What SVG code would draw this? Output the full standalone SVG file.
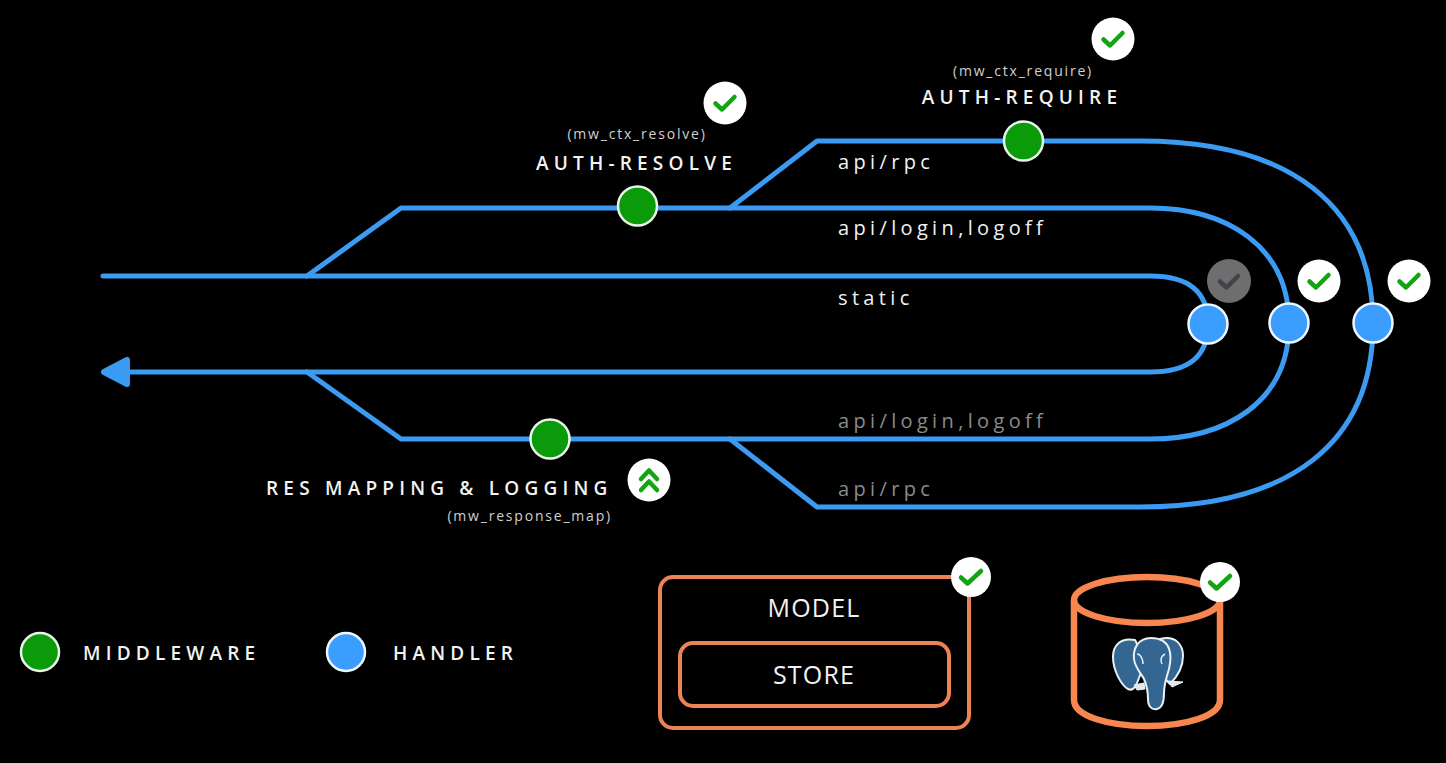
<svg xmlns="http://www.w3.org/2000/svg" width="1446" height="763" viewBox="0 0 1446 763">
<style>
text{font-family:"Open Sans","Noto Sans",sans-serif;fill:#f2f2f2}
.rail{fill:none;stroke:#3b9bf3;stroke-width:5;stroke-linecap:round;stroke-linejoin:round}
.mw{fill:#0a9a0a;stroke:#e8f5e8;stroke-width:2.5}
.hd{fill:#3b9eff;stroke:#eef6ff;stroke-width:2.5}
.badge{fill:#fff}
.chk{fill:none;stroke:#12a512;stroke-width:4.5;stroke-linecap:round;stroke-linejoin:round}
.title{font-size:19px;font-weight:600;letter-spacing:5.2px}
.sub{font-size:14px;fill:#d0d0d0;letter-spacing:1.8px}
.path{font-size:20px;font-weight:500;letter-spacing:4.35px}
.dim{fill:#8a8a8a}
.box{fill:none;stroke:#ee8257;stroke-width:4}
.big{font-size:25px;font-weight:500;text-anchor:middle;letter-spacing:1.2px}
.db{fill:none;stroke:#f8874f;stroke-width:6.500}
</style>
<defs>
<g id="tick"><circle class="badge" r="21.5"/><path class="chk" d="M-9.500,0.500 L-3,6.500 L9.500,-6"/></g>
<g id="tick-small"><circle class="badge" r="20"/><path class="chk" d="M-10,0.500 L-3.500,6.500 L10,-6"/></g>
</defs>
<rect width="1446" height="763" fill="#000"/>
<g id="connectors">
<path class="rail" d="M103,276 H1150 C1180,276 1208,285 1208,324 C1208,363 1180,372 1150,372 H128"/>
<path class="rail" d="M307,276 L401,208 H1150 C1225,208 1289,245 1289,324 C1289,403 1225,439 1150,439 H401 L307,372"/>
<path class="rail" d="M730,208 L817,141 H1140 C1290,141 1373,205 1373,324 C1373,443 1290,507 1140,507 H817 L730,439"/>
<path d="M104,372 L127,360 V384 Z" fill="#3b9bf3" stroke="#3b9bf3" stroke-width="6" stroke-linejoin="round"/>
</g>
<g id="auth-resolve">
<circle class="mw" cx="637.500" cy="206" r="19.500"/>
<text class="sub" x="637" y="139" text-anchor="middle">(mw_ctx_resolve)</text>
<text class="title" x="636.500" y="170" text-anchor="middle">AUTH-RESOLVE</text>
<use href="#tick" x="725" y="103"/>
</g>
<g id="auth-require">
<circle class="mw" cx="1023.500" cy="141" r="19.500"/>
<text class="sub" x="1023" y="76" text-anchor="middle">(mw_ctx_require)</text>
<text class="title" x="1022" y="104" text-anchor="middle">AUTH-REQUIRE</text>
<use href="#tick" x="1113" y="39"/>
</g>
<g id="res-mapping">
<circle class="mw" cx="550" cy="439" r="19.500"/>
<text class="title" x="266" y="495">RES MAPPING &amp; LOGGING</text>
<text class="sub" x="612" y="521" text-anchor="end">(mw_response_map)</text>
<circle class="badge" cx="649" cy="480" r="21.500"/>
<path class="chk" d="M641,479 L649,470.500 L657,479 M641,490 L649,481.500 L657,490" stroke-width="3.500"/>
</g>
<g id="handler-static">
<circle class="hd" cx="1208" cy="324" r="19.500"/>
<circle cx="1229" cy="281" r="22" fill="#6e6e6e"/>
<path d="M1220,281.500 L1226.500,287.500 L1238,276" fill="none" stroke="#3f4448" stroke-width="4.500" stroke-linecap="round" stroke-linejoin="round"/>
</g>
<g id="handler-login">
<circle class="hd" cx="1289" cy="323" r="19.500"/>
<use href="#tick" x="1319" y="281"/>
</g>
<g id="handler-rpc">
<circle class="hd" cx="1373" cy="323" r="19.500"/>
<use href="#tick" x="1409" y="281"/>
</g>
<g id="labels">
<text class="path" x="838" y="169">api/rpc</text>
<text class="path" x="838" y="235">api/login,logoff</text>
<text class="path" x="838" y="305">static</text>
<text class="path dim" x="838" y="428">api/login,logoff</text>
<text class="path dim" x="838" y="496">api/rpc</text>
</g>
<g id="legend-middleware">
<circle class="mw" cx="40" cy="652" r="19"/>
<text class="title" x="83" y="660">MIDDLEWARE</text>
</g>
<g id="legend-handler">
<circle class="hd" cx="346" cy="652" r="19"/>
<text class="title" x="393" y="660">HANDLER</text>
</g>
<g id="model">
<rect class="box" x="660" y="577" width="309" height="151" rx="13"/>
<text class="big" x="814" y="617">MODEL</text>
<rect class="box" x="680" y="643" width="269" height="63" rx="13"/>
<text class="big" x="814" y="684">STORE</text>
<use href="#tick-small" x="971" y="577"/>
</g>
<g id="database">
<ellipse class="db" cx="1147" cy="600" rx="73" ry="23"/>
<path class="db" d="M1074,600 V700 C1074,716 1108,726 1147,726 C1186,726 1220,716 1220,700 V600"/>
<g id="elephant" stroke="#e8f0f6" stroke-width="2" stroke-linejoin="round" fill="#336791">
<path d="M1160,639 C1176,635 1183,645 1183,656 C1183,667 1177,677 1170,684 L1155,668 Z"/>
<path d="M1135,640 C1120,637 1113,646 1113,657 C1113,671 1122,686 1128,689 C1132,691 1135,688 1137,683 L1146,660 Z"/>
<path d="M1151,638 C1137,638 1133,650 1134,659 C1135,668 1141,673 1144,679 C1147,686 1148,692 1148,699 C1148,707 1152,710 1157,709 C1162,708 1164,702 1164,693 C1164,684 1167,676 1169,669 C1172,656 1172,638 1151,638 Z"/>
<path d="M1137,654 C1141,654 1143,660 1143,664 M1165,654 C1161,656 1160,660 1162,664" fill="none" stroke-width="1.500"/>
<path d="M1134,685 L1144,683 L1145,689 L1137,690 Z M1168,681 L1183,682 L1172,687 Z" fill="#dfe8ef" stroke-width="1"/>
</g>
<use href="#tick-small" x="1220" y="582"/>
</g>
</svg>
